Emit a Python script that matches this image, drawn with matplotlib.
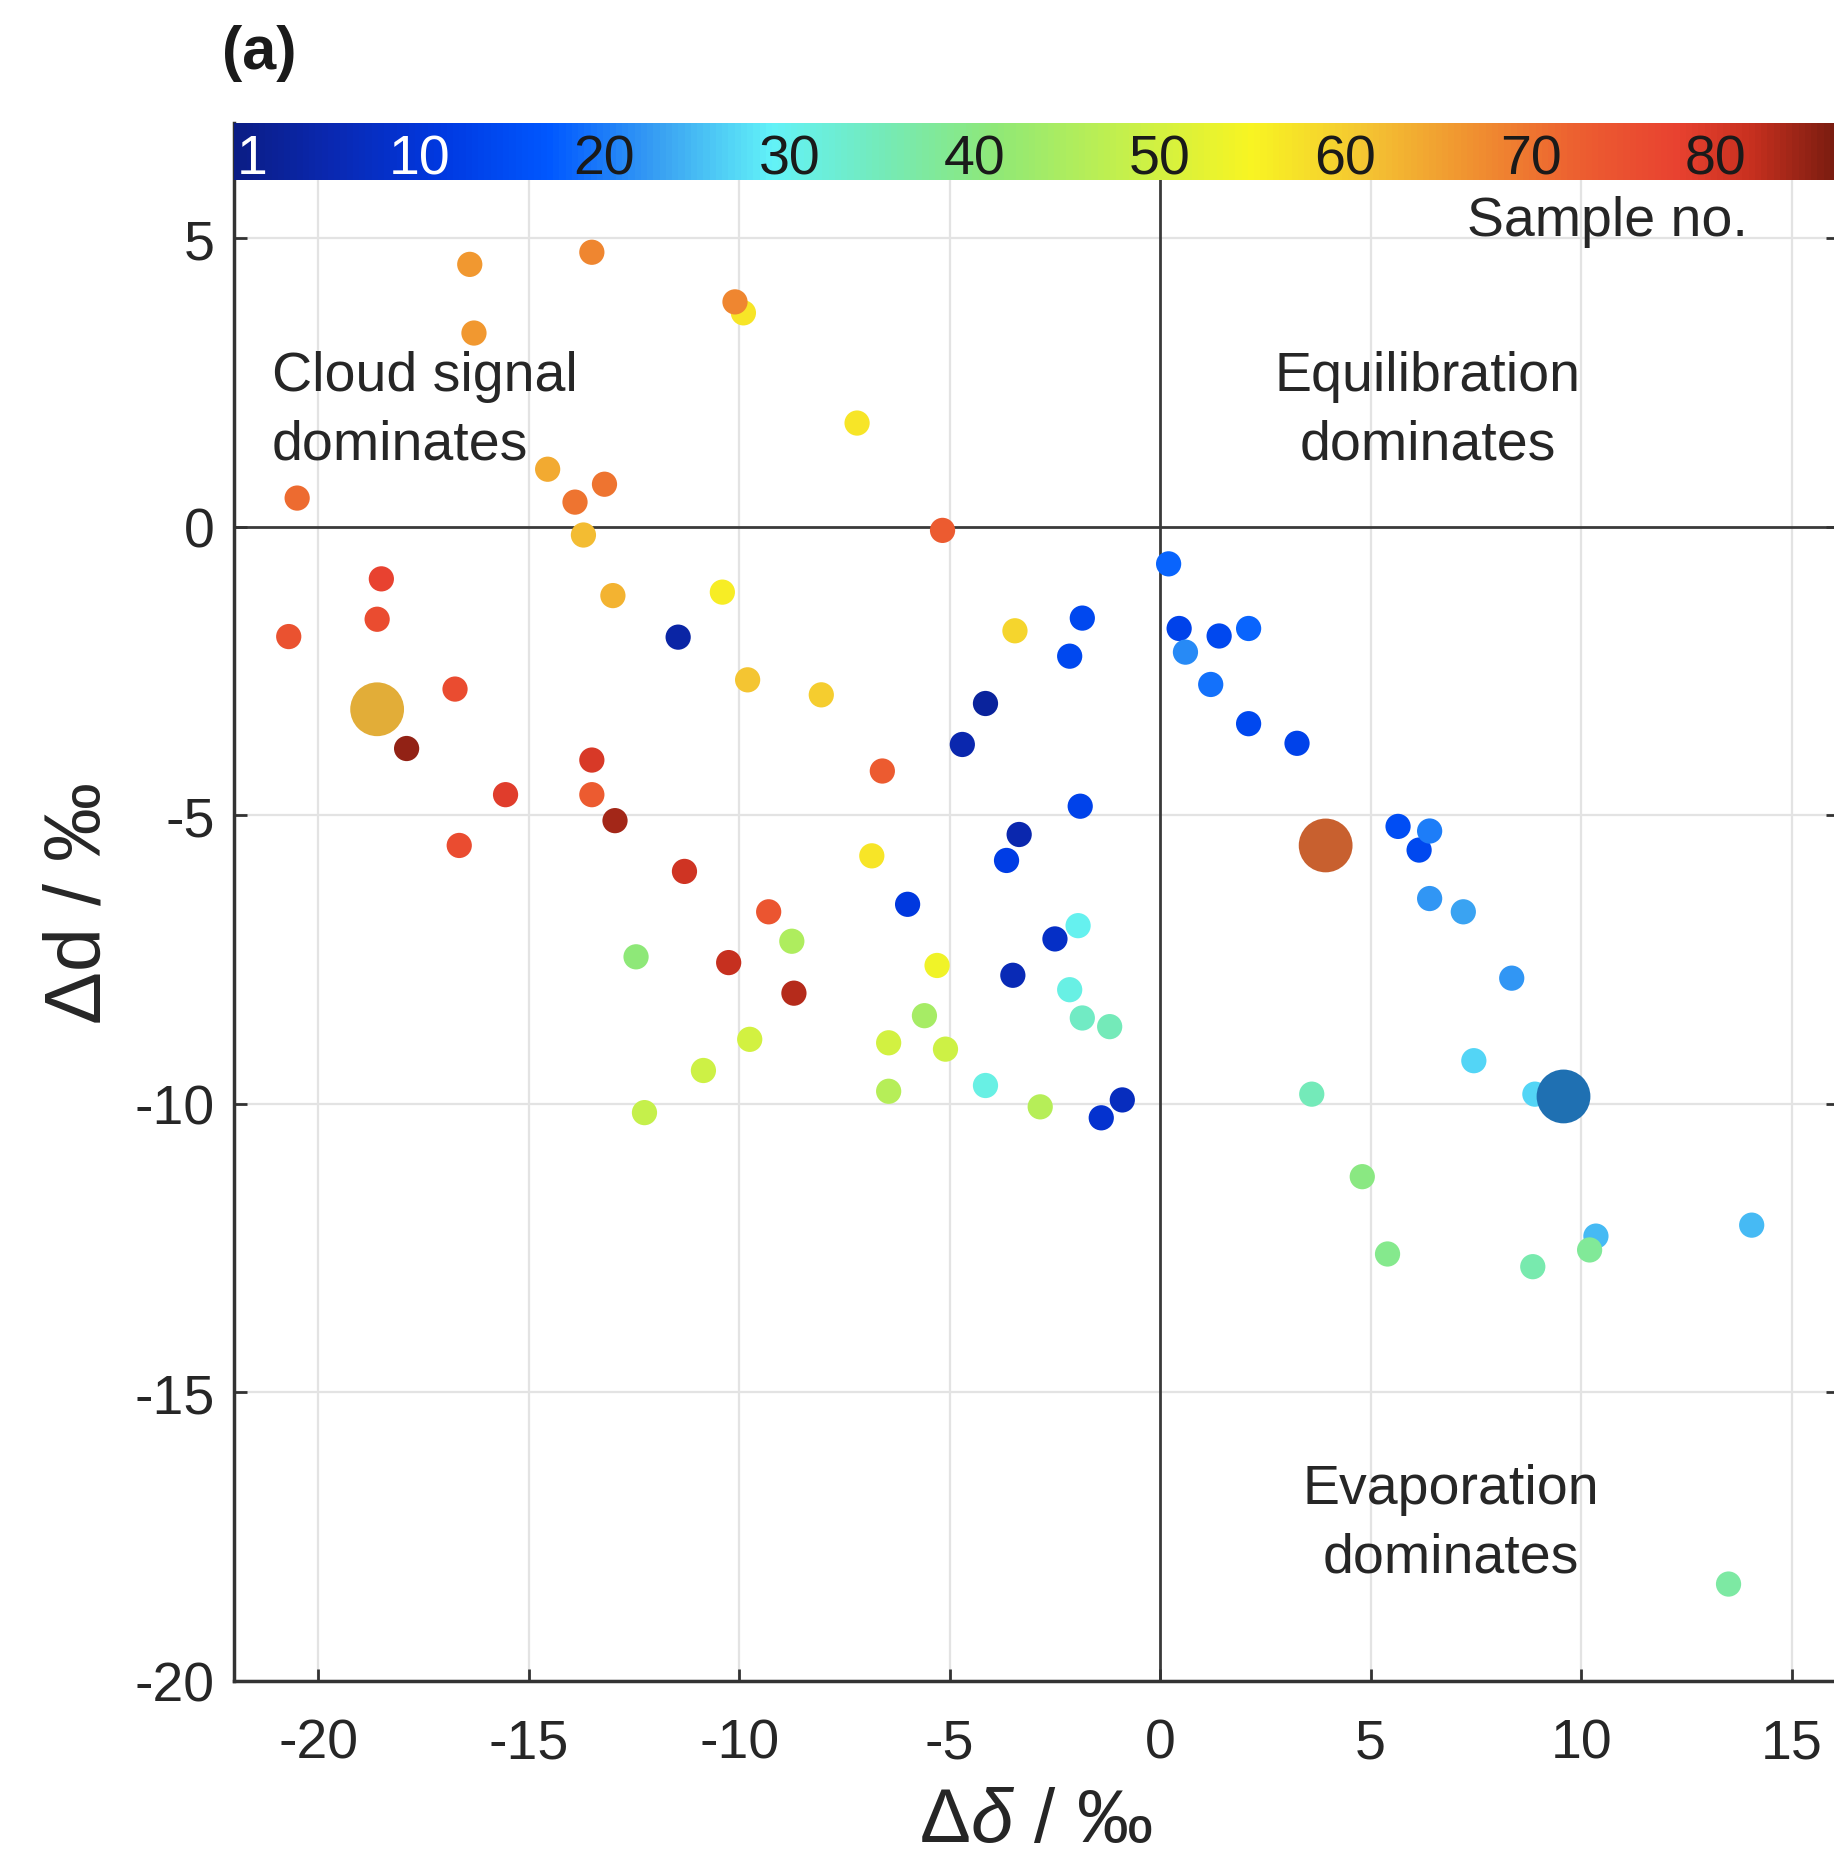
import numpy as np
import matplotlib
matplotlib.use("Agg")
import matplotlib.pyplot as plt
from matplotlib.colors import LinearSegmentedColormap, Normalize
import matplotlib.transforms as mtransforms

plt.rcParams['font.family'] = ['Liberation Sans', 'DejaVu Sans']
plt.rcParams['mathtext.fontset'] = 'custom'
plt.rcParams['mathtext.rm'] = 'Liberation Sans'
plt.rcParams['mathtext.it'] = 'Liberation Sans:italic'
plt.rcParams['axes.unicode_minus'] = False

# ---------------- data ----------------
delta_delta = [-16.4, -13.5, -16.3, -10.1, -9.9, -7.2, -20.5, -14.55, -13.9, -13.2,
               -13.7, -5.17, -18.5, -18.6, -20.7, -13.0, -10.4, -11.45, -9.8, -8.05,
               -16.75, -17.9, -13.5, -13.5, -15.55, -12.95, -16.65, -11.3, -9.3, -10.25,
               -8.7, -6.6, -6.85, -12.45, -8.75, -5.3, -5.6, -9.75, -6.45, -5.1,
               -10.85, -12.25, -6.45, -4.15, -2.85, -1.4, -0.9, -3.45, -1.85, -2.15,
               -4.15, -4.7, -1.9, -3.35, -3.65, -6.0, -1.95, -2.5, -3.5, -2.15,
               -1.85, -1.2, 0.2, 0.45, 0.6, 1.4, 2.1, 1.2, 2.1, 3.25,
               5.65, 6.4, 6.15, 6.4, 7.2, 8.35, 7.45, 3.6, 8.9, 4.8,
               5.4, 8.85, 10.35, 10.2, 14.05, 13.5]
delta_d = [4.55, 4.76, 3.36, 3.9, 3.71, 1.8, 0.5, 1.0, 0.43, 0.74,
           -0.14, -0.06, -0.9, -1.6, -1.9, -1.19, -1.13, -1.91, -2.65, -2.91,
           -2.81, -3.84, -4.04, -4.64, -4.64, -5.09, -5.52, -5.97, -6.67, -7.55,
           -8.08, -4.23, -5.7, -7.45, -7.18, -7.6, -8.47, -8.88, -8.94, -9.05,
           -9.42, -10.15, -9.78, -9.68, -10.05, -10.24, -9.93, -1.8, -1.58, -2.24,
           -3.06, -3.77, -4.84, -5.33, -5.78, -6.54, -6.91, -7.14, -7.77, -8.02,
           -8.51, -8.66, -0.64, -1.76, -2.17, -1.89, -1.76, -2.73, -3.41, -3.75,
           -5.19, -5.27, -5.6, -6.44, -6.67, -7.82, -9.25, -9.83, -9.83, -11.26,
           -12.6, -12.82, -12.29, -12.53, -12.1, -18.32]
sample_no = [66, 68, 66, 68, 57, 57, 71, 64, 70, 70,
             62, 73, 78, 76, 75, 63, 56, 4, 61, 60,
             76, 85, 80, 73, 79, 84, 76, 81, 74, 82,
             83, 73, 57, 41, 45, 54, 44, 50, 50, 49,
             49, 48, 46, 31, 46, 9, 7, 59, 14, 14,
             3, 5, 13, 5, 12, 11, 30, 8, 6, 31,
             34, 35, 18, 13, 21, 14, 18, 19, 14, 13,
             15, 20, 14, 22, 23, 22, 27, 35, 27, 40,
             39, 36, 25, 38, 25, 37]

mean_x = [-18.6, 3.93, 9.58]
mean_y = [-3.16, -5.52, -9.87]
mean_colors = ['#E2AD38', '#C8602F', '#1F70B2']

cbar_ticks = [1, 10, 20, 30, 40, 50, 60, 70, 80]
xticks = [-20, -15, -10, -5, 0, 5, 10, 15]
yticks = [-20, -15, -10, -5, 0, 5]

# ---------------- colormap ----------------
cm_pos = [0, 5, 11, 17, 23, 29, 35, 41, 48, 55, 61, 67, 73, 78, 82, 86.5]
cm_col = ['#0b1d85', '#0a28b0', '#0038e0', '#0058ff', '#3aa2f2', '#62f2f8',
          '#74eab8', '#8ee878', '#c4f04c', '#f8f422', '#f4c632', '#f09030',
          '#ec5c30', '#e84230', '#c8301f', '#7a1c10']
vmin, vmax = 0, 86.5
cmap = LinearSegmentedColormap.from_list(
    'samples', [((p - vmin) / (vmax - vmin), c) for p, c in zip(cm_pos, cm_col)])
norm = Normalize(vmin=vmin, vmax=vmax)

# ---------------- figure ----------------
W, H = 1834, 1858
fig = plt.figure(figsize=(W / 100, H / 100), dpi=100)
ax_l, ax_r, ax_t, ax_b = 234, 1838, 124, 1682
ax = fig.add_axes([ax_l / W, 1 - ax_b / H, (ax_r - ax_l) / W, (ax_b - ax_t) / H])
ax.set_xlim(-22, 16.1)
ax.set_ylim(-20, 7)

for v in xticks:
    if v != 0:
        ax.axvline(v, color='#e3e3e3', lw=1.6, zorder=0)
for v in yticks:
    if v != 0:
        ax.axhline(v, color='#e3e3e3', lw=1.6, zorder=0)
ax.axvline(0, color='#3a3a3a', lw=2.0, zorder=1)
ax.axhline(0, color='#3a3a3a', lw=2.0, zorder=1)

order = np.argsort(sample_no, kind='stable')
xs = np.array(delta_delta)[order]
ys = np.array(delta_d)[order]
cs = np.array(sample_no)[order]
sc = ax.scatter(xs, ys, c=cs, cmap=cmap, norm=norm, s=330, edgecolors='none', zorder=3)
ax.scatter(mean_x, mean_y, c=mean_colors, s=1500, edgecolors='none', zorder=4)

ax.set_xticks(xticks)
ax.set_yticks(yticks)
ax.tick_params(axis='both', direction='in', length=9, width=2, colors='#333333',
               labelsize=40, labelcolor='#262626')
ax.tick_params(axis='y', right=True, pad=14)
ax.tick_params(axis='x', pad=26)
for s in ['left', 'bottom']:
    ax.spines[s].set_color('#333333')
    ax.spines[s].set_linewidth(2.5)
ax.spines['top'].set_visible(False)
ax.spines['right'].set_visible(False)

ax.set_xlabel(r'$\Delta\delta$ / ‰', fontsize=55, color='#262626', labelpad=12)
ax.set_ylabel('Δd / ‰', fontsize=57, color='#262626', labelpad=12)

txt_kw = dict(fontsize=40, color='#262626', linespacing=1.4, zorder=5)
ax.text(-21.1, 2.02, 'Cloud signal\ndominates', ha='left', va='center', **txt_kw)
ax.text(6.35, 2.02, 'Equilibration\ndominates', ha='center', va='center', **txt_kw)
ax.text(6.9, -17.27, 'Evaporation\ndominates', ha='center', va='center', **txt_kw)
ax.text(13.95, 5.3, 'Sample no.', ha='right', va='center', **txt_kw)

# ---------------- colorbar ----------------
cb_t, cb_b = 124, 181
cax = fig.add_axes([ax_l / W, 1 - cb_b / H, (ax_r - ax_l) / W, (cb_b - cb_t) / H])
cb = fig.colorbar(sc, cax=cax, orientation='horizontal')
cb.set_ticks([])
cb.outline.set_visible(False)
cax.set_xlim(vmin, vmax + 0.1)
trans = mtransforms.blended_transform_factory(cax.transData, cax.transAxes)
for t in cbar_ticks:
    col = 'white' if t < 15 else '#1a1a1a'
    cax.text(t, 0.36, str(t), transform=trans, ha='center', va='center',
             fontsize=40, color=col)

fig.text(222 / W, 1 - 53 / H, '(a)', fontsize=44, fontweight='bold',
         ha='left', va='center', color='#1a1a1a')

fig.savefig('out.png', dpi=100, facecolor='white')
